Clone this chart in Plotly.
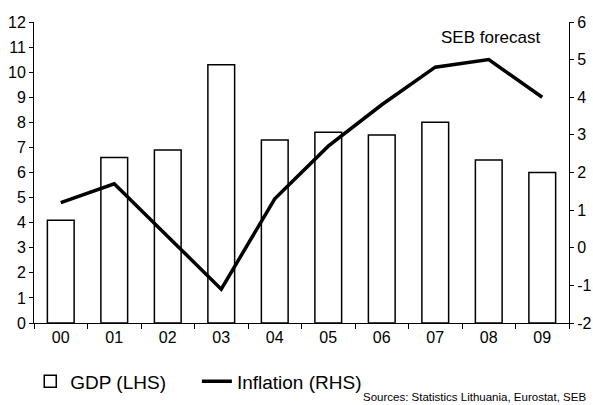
import plotly.graph_objects as go

years = ["00", "01", "02", "03", "04", "05", "06", "07", "08", "09"]
gdp = [4.1, 6.6, 6.9, 10.3, 7.3, 7.6, 7.5, 8.0, 6.5, 6.0]
inflation = [1.2, 1.7, 0.3, -1.1, 1.3, 2.7, 3.8, 4.8, 5.0, 4.0]
left_ticks = list(range(0, 13))
right_ticks = list(range(-2, 7))

FONT = "Arial, Liberation Sans, sans-serif"

fig = go.Figure()
fig.add_trace(go.Bar(
    x=years, y=gdp, name="GDP (LHS)", width=0.5,
    marker=dict(color="white", line=dict(color="black", width=1.5)),
    yaxis="y", legend="legend",
))
fig.add_trace(go.Scatter(
    x=years, y=inflation, name="Inflation (RHS)", mode="lines",
    line=dict(color="black", width=3.5),
    yaxis="y2", legend="legend2",
))

legend_common = dict(
    orientation="h", xref="container", yref="container", xanchor="left",
    yanchor="middle", font=dict(size=19), bgcolor="rgba(0,0,0,0)",
)

fig.update_layout(
    width=593, height=405,
    margin=dict(l=34, r=24, t=22, b=82),
    paper_bgcolor="white", plot_bgcolor="white",
    font=dict(family=FONT, size=16, color="black"),
    showlegend=True,
    legend=dict(x=0.051, y=0.058, **legend_common),
    legend2=dict(x=0.332, y=0.058, **legend_common),
    xaxis=dict(
        type="category", showline=True, linecolor="black", linewidth=1,
        ticks="outside", ticklen=5, tickcolor="black", tickson="boundaries",
        showgrid=False, tickfont=dict(size=16), automargin=False,
    ),
    yaxis=dict(
        range=[0, 12], tickvals=left_ticks, ticktext=[str(v) for v in left_ticks],
        showline=True, linecolor="black",
        linewidth=1, ticks="outside", ticklen=4, tickcolor="black",
        showgrid=False, zeroline=False, tickfont=dict(size=16), automargin=False,
    ),
    yaxis2=dict(
        range=[-2, 6], tickvals=right_ticks, ticktext=[str(v) for v in right_ticks],
        overlaying="y", side="right",
        showline=True, linecolor="black", linewidth=1, ticks="outside",
        ticklen=4, tickcolor="black", showgrid=False, zeroline=False,
        tickfont=dict(size=16), automargin=False,
    ),
    bargap=0.5,
    annotations=[
        dict(text="SEB forecast", xref="paper", yref="paper", x=0.854, y=0.947,
             showarrow=False, font=dict(size=17), xanchor="center", yanchor="middle"),
        dict(text="Sources: Statistics Lithuania, Eurostat, SEB", xref="paper", yref="paper",
             x=1.0355, y=-0.2724, xanchor="right", yanchor="bottom", showarrow=False,
             font=dict(size=11.5)),
    ],
)

fig.write_html("out.html", config={"displayModeBar": False},
               post_script="document.body.style.margin='0';")
